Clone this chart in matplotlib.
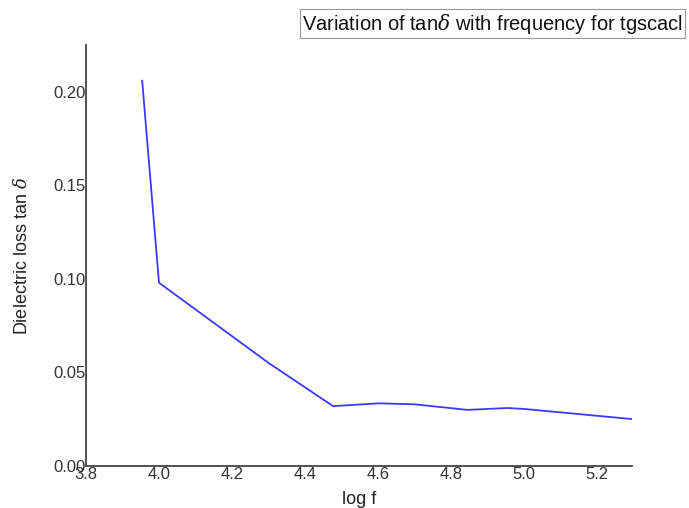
import matplotlib
matplotlib.use('Agg')
import matplotlib.pyplot as plt

plt.rcParams['font.family'] = ['Liberation Sans', 'DejaVu Sans']
plt.rcParams['mathtext.fontset'] = 'dejavuserif'

log_f = [3.954, 4.0, 4.301, 4.477, 4.602, 4.699, 4.845, 4.954, 5.0, 5.301]
tan_d = [0.206, 0.098, 0.055, 0.032, 0.0335, 0.033, 0.030, 0.031, 0.0305, 0.025]
xticks = [3.8, 4.0, 4.2, 4.4, 4.6, 4.8, 5.0, 5.2]
yticks = [0.00, 0.05, 0.10, 0.15, 0.20]

fig = plt.figure(figsize=(6.89, 5.08), dpi=100)
ax = fig.add_axes([0.1248, 0.0827, 0.7925, 0.8283])
ax.plot(log_f, tan_d, color='#3a3aff', lw=1.3)

ax.set_xlim(3.8, 5.296)
ax.set_ylim(0, 0.225)
ax.set_xticks(xticks)
ax.set_xticklabels(['%.1f' % t for t in xticks])
ax.set_yticks(yticks)
ax.set_yticklabels(['%.2f' % t for t in yticks])
ax.tick_params(length=0, labelsize=12, colors='#333333')
ax.tick_params(axis='y', pad=0)
ax.tick_params(axis='x', pad=1)
for s in ['top', 'right']:
    ax.spines[s].set_visible(False)
for s in ['left', 'bottom']:
    ax.spines[s].set_color('#444444')
    ax.spines[s].set_linewidth(1.3)

ax.set_xlabel('log f', fontsize=13, color='#222222', labelpad=6)
ax.set_ylabel('Dielectric loss tan $\\delta$', fontsize=13, color='#222222', labelpad=16)

fig.text(0.991, 0.953, 'Variation of tan$\\delta$ with frequency for tgscacl',
         ha='right', va='center', fontsize=14.5, color='#111111',
         bbox=dict(boxstyle='square,pad=0.12', fc='white', ec='#999999', lw=0.8))

fig.savefig('out.png', dpi=100)
